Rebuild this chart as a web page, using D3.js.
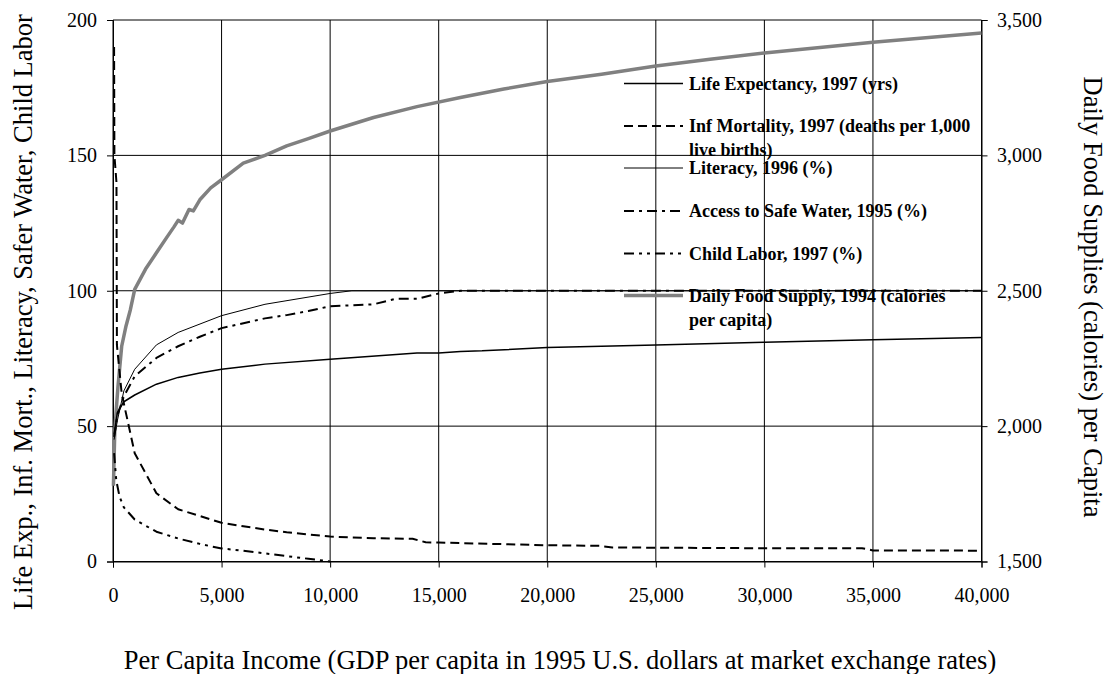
<!DOCTYPE html>
<html>
<head>
<meta charset="utf-8">
<script src="https://cdn.jsdelivr.net/npm/d3@7"></script>
<style>
  html, body { margin: 0; padding: 0; background: #fff; }
  svg { display: block; }
  text { font-family: "Liberation Serif", "Times New Roman", serif; }
</style>
</head>
<body>
<svg id="chart" width="1107" height="674"></svg>
<script>
// ---------- data ----------
const xTickValues = [0, 5000, 10000, 15000, 20000, 25000, 30000, 35000, 40000];
const leftTickValues = [0, 50, 100, 150, 200];
const rightTickValues = [1500, 2000, 2500, 3000, 3500];

const lifeIncome = [50, 200, 500, 1000, 2000, 3000, 4000, 5000, 7000, 10000, 14000, 15000, 16000, 17000, 20000, 25000, 30000, 35000, 40000];
const lifeExp    = [47, 55, 59, 61.5, 65.5, 68, 69.6, 71, 72.9, 74.7, 77, 77, 77.6, 77.8, 79, 80, 81, 81.9, 82.7];

const infIncome  = [50, 65, 160, 180, 400, 1000, 2000, 3000, 5000, 6000, 7000, 8000, 10000, 12000, 13800, 14400, 15000, 20000, 22400, 23000, 25000, 30000, 34500, 35000, 40000];
const infMort    = [190, 150, 140, 80, 62, 40, 25.2, 19.3, 14.3, 13, 11.8, 10.8, 9.2, 8.6, 8.4, 7.1, 7.0, 6.0, 5.8, 5.2, 5.1, 4.9, 4.9, 4.1, 4.0];

const litIncome  = [50, 200, 500, 1000, 2000, 3000, 5000, 7000, 10000, 11000, 40000];
const literacy   = [45, 52, 63, 71, 80, 84.6, 90.8, 95, 99, 100, 100];

const waterIncome = [50, 200, 500, 1000, 2000, 3000, 4000, 5000, 7000, 8000, 9000, 10000, 12000, 13000, 14000, 15000, 16000, 40000];
const safeWater   = [46, 54, 61, 68.4, 75.2, 79.5, 83, 86.2, 89.8, 91, 92.5, 94.3, 95, 97, 97, 99, 100, 100];

const childIncome = [50, 150, 300, 500, 1000, 2000, 3000, 4000, 5000, 6000, 7000, 8000, 9000, 10000];
const childLabor  = [40, 30, 24, 20, 15.5, 11, 8.5, 6.5, 4.8, 4, 3, 2, 1, 0];

const foodIncome = [20, 80, 150, 230, 400, 600, 800, 1000, 1500, 2000, 2500, 2800, 3000, 3200, 3500, 3700, 4000, 4500, 5000, 6000, 7000, 8000, 9000, 10000, 12000, 14000, 16000, 18000, 20000, 22500, 25000, 27500, 30000, 35000, 40000];
const foodSupply = [1780, 1975, 2060, 2147, 2295, 2370, 2430, 2505, 2580, 2640, 2700, 2735, 2760, 2750, 2800, 2795, 2836, 2880, 2910, 2971, 3000, 3035, 3062, 3090, 3140, 3180, 3214, 3245, 3273, 3300, 3330, 3355, 3378, 3418, 3452];

const legendLabels = [
  ["Life Expectancy, 1997 (yrs)"],
  ["Inf Mortality, 1997 (deaths per 1,000", "live births)"],
  ["Literacy, 1996 (%)"],
  ["Access to Safe Water, 1995 (%)"],
  ["Child Labor, 1997 (%)"],
  ["Daily Food Supply, 1994 (calories", "per capita)"]
];

// ---------- scales ----------
const FONT = '"Liberation Serif", "Times New Roman", serif';
const svg = d3.select("#chart");
const X0 = 113, X1 = 981.5, Y0 = 561.5, Y1 = 20;
const x = d3.scaleLinear().domain([0, 40000]).range([X0, X1]);
const yL = d3.scaleLinear().domain([0, 200]).range([Y0, Y1]);
const yR = d3.scaleLinear().domain([1500, 3500]).range([Y0, Y1]);

// ---------- grid ----------
const grid = svg.append("g");
grid.selectAll("line.h").data(leftTickValues).join("line")
  .attr("x1", X0).attr("x2", X1)
  .attr("y1", d => yL(d)).attr("y2", d => yL(d))
  .attr("stroke", "#000").attr("stroke-width", 1);
grid.selectAll("line.v").data(xTickValues).join("line")
  .attr("x1", d => x(d)).attr("x2", d => x(d))
  .attr("y1", Y1).attr("y2", Y0)
  .attr("stroke", "#000").attr("stroke-width", 1);

// ---------- axes ----------
const axisFont = 20;
const gx = svg.append("g").attr("transform", `translate(0,${Y0})`)
  .call(d3.axisBottom(x).tickValues(xTickValues).tickSize(6).tickPadding(20).tickFormat(d3.format(",")));
const gl = svg.append("g").attr("transform", `translate(${X0},0)`)
  .call(d3.axisLeft(yL).tickValues(leftTickValues).tickSize(6).tickPadding(10).tickFormat(d3.format("d")));
const gr = svg.append("g").attr("transform", `translate(${X1},0)`)
  .call(d3.axisRight(yR).tickValues(rightTickValues).tickSize(6).tickPadding(9.5).tickFormat(d3.format(",")));
[gx, gl, gr].forEach(g => {
  g.attr("font-family", FONT).attr("font-size", axisFont);
  g.selectAll("path.domain").attr("stroke", "#000").attr("stroke-width", 1);
  g.selectAll(".tick line").attr("stroke", "#000");
  g.selectAll(".tick text").attr("fill", "#000")
    .style("font-family", FONT)
    .style("font-size", axisFont + "px");
});

// ---------- series ----------
const plot = svg.append("g");
function drawSeries(xs, ys, yScale, style) {
  const pts = xs.map((v, i) => [v, ys[i]]);
  const line = d3.line().x(d => x(d[0])).y(d => yScale(d[1]));
  plot.append("path").datum(pts)
    .attr("d", line)
    .attr("fill", "none")
    .attr("stroke", style.color)
    .attr("stroke-width", style.width)
    .attr("stroke-dasharray", style.dash || null)
    .attr("stroke-linejoin", "round");
}
const styles = [
  { color: "#000", width: 1.5 },
  { color: "#000", width: 2, dash: "9,5" },
  { color: "#000", width: 1 },
  { color: "#000", width: 2, dash: "10,5,3,5" },
  { color: "#000", width: 2, dash: "10,5,3,5,3,5" },
  { color: "#808080", width: 3.5 }
];
drawSeries(foodIncome, foodSupply, yR, styles[5]);
drawSeries(lifeIncome, lifeExp, yL, styles[0]);
drawSeries(infIncome, infMort, yL, styles[1]);
drawSeries(litIncome, literacy, yL, styles[2]);
drawSeries(waterIncome, safeWater, yL, styles[3]);
drawSeries(childIncome, childLabor, yL, styles[4]);

// ---------- legend ----------
const legendLineY = [83.5, 126, 168, 211, 253.5, 295.5];
const legend = svg.append("g");
legendLabels.forEach((lines, i) => {
  const yy = legendLineY[i];
  legend.append("line")
    .attr("x1", 624).attr("x2", 683).attr("y1", yy).attr("y2", yy)
    .attr("stroke", styles[i].color).attr("stroke-width", styles[i].width)
    .attr("stroke-dasharray", styles[i].dash || null);
  const t = legend.append("text")
    .attr("x", 689).attr("y", yy + 6)
    .style("font-size", "18px").style("font-weight", "bold").attr("fill", "#000");
  lines.forEach((s, j) => {
    t.append("tspan").attr("x", 689).attr("dy", j === 0 ? 0 : 24).text(s);
  });
});

// ---------- titles ----------
const titleSize = "26.5px";
svg.append("text")
  .attr("x", 560).attr("y", 669)
  .attr("text-anchor", "middle").style("font-size", titleSize).attr("fill", "#000")
  .text("Per Capita Income (GDP per capita in 1995 U.S. dollars at market exchange rates)");
svg.append("text")
  .attr("transform", "translate(32,312) rotate(-90)")
  .attr("text-anchor", "middle").style("font-size", titleSize).attr("fill", "#000")
  .text("Life Exp., Inf. Mort., Literacy, Safer Water, Child Labor");
svg.append("text")
  .attr("transform", "translate(1084,297) rotate(90)")
  .attr("text-anchor", "middle").style("font-size", titleSize).attr("fill", "#000")
  .text("Daily Food Supplies (calories) per Capita");
</script>
</body>
</html>
